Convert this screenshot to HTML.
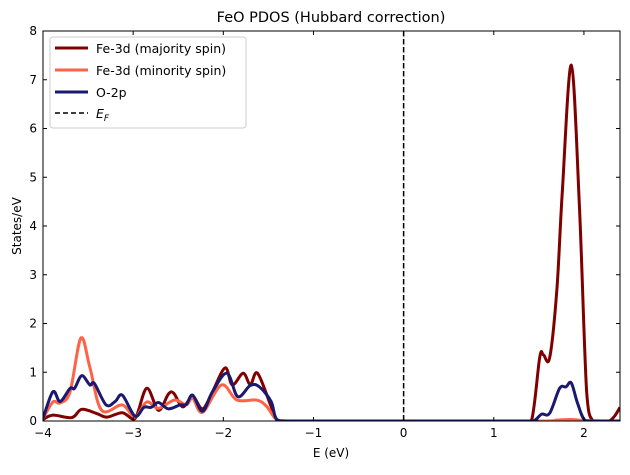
<!DOCTYPE html>
<html><head><meta charset="utf-8"><style>
body{margin:0;background:#fff;}
svg{font-family:"DejaVu Sans","Liberation Sans",sans-serif;}
</style></head><body>
<svg id="chart" width="630" height="470" viewBox="0 0 630 470" xmlns="http://www.w3.org/2000/svg">
<rect width="630" height="470" fill="#fff"/>
<text x="331" y="22" font-size="14.5" text-anchor="middle">FeO PDOS (Hubbard correction)</text>
<g id="plot"></g>
<text x="331" y="457" font-size="12" text-anchor="middle">E (eV)</text>
<text x="21" y="226" font-size="12" text-anchor="middle" transform="rotate(-90 21 226)">States/eV</text>
<g>
<rect x="50" y="37" width="196" height="91" rx="3" fill="#fff" stroke="#ccc" stroke-width="1"/>
<line x1="55" y1="48" x2="88" y2="48" stroke="#800000" stroke-width="3"/>
<text x="96" y="53" font-size="12.5">Fe-3d (majority spin)</text>
<line x1="55" y1="70" x2="88" y2="70" stroke="#ff6347" stroke-width="3"/>
<text x="96" y="75" font-size="12.5">Fe-3d (minority spin)</text>
<line x1="55" y1="92" x2="88" y2="92" stroke="#191970" stroke-width="3"/>
<text x="96" y="97" font-size="12.5">O-2p</text>
<line x1="55" y1="113" x2="88" y2="113" stroke="#000" stroke-width="1.6" stroke-dasharray="5,3"/>
<text x="96" y="118" font-size="12.5" font-style="italic">E<tspan font-size="9" dy="3">F</tspan></text>
</g>
</svg>
<script>
const xTicks=[-4,-3,-2,-1,0,1,2];
const yTicks=[0,1,2,3,4,5,6,7,8];
const majX=[-4,-3.89,-3.68,-3.57,-3.4,-3.29,-3.12,-2.98,-2.85,-2.72,-2.61,-2.55,-2.45,-2.34,-2.23,-2.12,-1.98,-1.9,-1.78,-1.7,-1.62,-1.47,-1.4,-1.2,0,1.3,1.42,1.51,1.55,1.62,1.7,1.76,1.86,1.95,2.03,2.1,2.2,2.28,2.34,2.4];
const majY=[0.03,0.12,0.07,0.24,0.15,0.08,0.17,0.05,0.67,0.22,0.55,0.57,0.29,0.5,0.25,0.6,1.09,0.74,0.98,0.75,0.98,0.3,0.02,0,0,0,0.02,1.31,1.36,1.3,2.7,4.7,7.3,4.4,0.6,0,0,0,0.1,0.28];
const minX=[-4,-3.89,-3.81,-3.7,-3.58,-3.48,-3.35,-3.12,-2.98,-2.85,-2.72,-2.54,-2.41,-2.34,-2.23,-2.02,-1.85,-1.63,-1.52,-1.4,-1.2,0,1.5,1.7,1.85,2.0,2.2,2.4];
const minY=[0.05,0.39,0.37,0.6,1.7,1.1,0.22,0.33,0.08,0.39,0.26,0.43,0.33,0.47,0.18,0.74,0.43,0.43,0.3,0.02,0,0,0,0.02,0.03,0.01,0,0];
const oX=[-4,-3.89,-3.81,-3.7,-3.65,-3.57,-3.48,-3.43,-3.3,-3.2,-3.12,-2.98,-2.88,-2.8,-2.72,-2.61,-2.48,-2.41,-2.34,-2.23,-2.12,-1.96,-1.84,-1.7,-1.6,-1.47,-1.4,-1.2,0,1.35,1.45,1.53,1.62,1.73,1.8,1.86,1.93,2.02,2.2,2.4];
const oY=[0.05,0.6,0.4,0.67,0.67,0.93,0.74,0.77,0.33,0.4,0.53,0.1,0.28,0.28,0.38,0.25,0.33,0.34,0.53,0.2,0.6,0.98,0.5,0.73,0.7,0.4,0.02,0,0,0,0.01,0.14,0.16,0.67,0.7,0.78,0.36,0,0,0];
const L=43,R=620,T=31,B=421,X0=-4,X1=2.4,Y0=0,Y1=8;
function sx(v){return L+(v-X0)/(X1-X0)*(R-L);}
function sy(v){return B-(v-Y0)/(Y1-Y0)*(B-T);}
const NS='http://www.w3.org/2000/svg';
const g=document.getElementById('plot');
function mk(t,a){const e=document.createElementNS(NS,t);for(const k in a)e.setAttribute(k,a[k]);g.appendChild(e);return e;}
function path(xs,ys){
  const p=xs.map((x,i)=>[sx(x),sy(ys[i])]);
  let d='M'+p[0][0]+','+p[0][1];
  for(let i=0;i<p.length-1;i++){
    const p0=p[i-1]||p[i],p1=p[i],p2=p[i+1],p3=p[i+2]||p2;
    let c1y=p1[1]+(p2[1]-p0[1])/6,c2y=p2[1]-(p3[1]-p1[1])/6;
    c1y=Math.min(c1y,B);c2y=Math.min(c2y,B);
    d+=' C'+(p1[0]+(p2[0]-p0[0])/6)+','+c1y+' '+(p2[0]-(p3[0]-p1[0])/6)+','+c2y+' '+p2[0]+','+p2[1];
  }
  return d;
}
const clip=mk('clipPath',{id:'cp'});
const cr=document.createElementNS(NS,'rect');cr.setAttribute('x',L);cr.setAttribute('y',T);cr.setAttribute('width',R-L);cr.setAttribute('height',B-T);clip.appendChild(cr);
const s1=mk('path',{d:path(majX,majY),fill:'none',stroke:'#800000','stroke-width':3,'clip-path':'url(#cp)'});


const s2=mk('path',{d:path(minX,minY),fill:'none',stroke:'#ff6347','stroke-width':3,'clip-path':'url(#cp)'});


const s3=mk('path',{d:path(oX,oY),fill:'none',stroke:'#191970','stroke-width':3,'clip-path':'url(#cp)'});


const ef=mk('line',{x1:sx(0),x2:sx(0),y1:T,y2:B,stroke:'#000','stroke-width':1.5,'stroke-dasharray':'5.5,2.5'});


const fr=mk('rect',{x:L,y:T,width:R-L,height:B-T,fill:'none',stroke:'#000','stroke-width':1});


xTicks.forEach(v=>{
  const x=sx(v);
  mk('line',{x1:x,x2:x,y1:B,y2:B-4,stroke:'#000'});
  mk('line',{x1:x,x2:x,y1:T,y2:T+4,stroke:'#000'});
  const t=mk('text',{x:x,y:B+16,'font-size':12,'text-anchor':'middle'});
  t.textContent=(v<0?'\u2212'+(-v):v);
  
  
});
yTicks.forEach(v=>{
  const y=sy(v);
  mk('line',{x1:L,x2:L+4,y1:y,y2:y,stroke:'#000'});
  mk('line',{x1:R,x2:R-4,y1:y,y2:y,stroke:'#000'});
  const t=mk('text',{x:L-6,y:y+4,'font-size':12,'text-anchor':'end'});
  t.textContent=v;
  
  
});
</script>
</body></html>
